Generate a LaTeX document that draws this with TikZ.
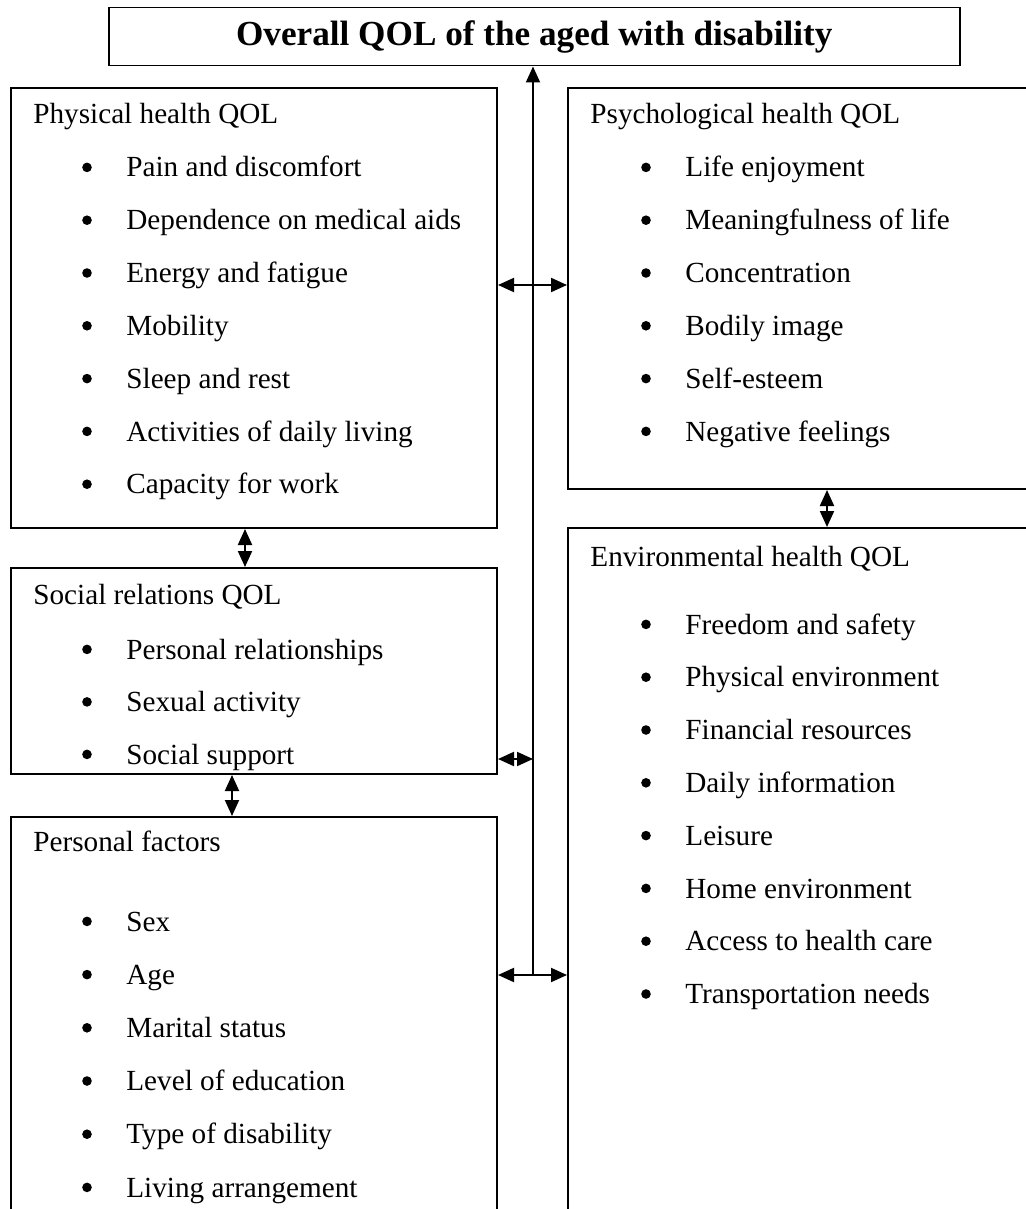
\documentclass[tikz,border=0pt]{standalone}
\usepackage{fontspec}
\setmainfont{Liberation Serif}
\usetikzlibrary{arrows.meta}
\begin{document}
\begin{tikzpicture}[x=0.5pt,y=-0.5pt,
  box/.style={draw, line width=1pt, rectangle, inner sep=0pt, anchor=north west},
  hd/.style={anchor=base west, inner sep=0pt, font=\fontsize{14.6}{17}\selectfont},
  itm/.style={hd},
  dot/.style={fill=black},
  link/.style={line width=1pt, {Triangle[length=8pt,width=7pt]}-{Triangle[length=8pt,width=7pt]}},
  uplink/.style={line width=1pt, -{Triangle[length=8pt,width=7pt]}}
  ]
\useasboundingbox (0,0) rectangle (1026,1209);
% boxes
\node[box, line width=0.75pt, minimum width=425.5pt, minimum height=29pt, anchor=north west,
      font=\fontsize{17.6}{20}\selectfont\bfseries] (title) at (108,7) {Overall QOL of the aged with disability};
\node[box, minimum width=243pt, minimum height=220pt] (phys) at (10,87) {};
\node[box, minimum width=235pt, minimum height=200.5pt] (psych) at (567,87) {};
\node[box, minimum width=243pt, minimum height=103pt] (social) at (10,567) {};
\node[box, minimum width=235pt, minimum height=350pt] (env) at (567,527) {};
\node[box, minimum width=243pt, minimum height=202pt] (pers) at (10,816) {};
% headers
\node[hd] (physhd) at (33,124) {Physical health QOL};
\node[hd] (psychhd) at (590,124) {Psychological health QOL};
\node[hd] (socialhd) at (33,604) {Social relations QOL};
\node[hd] (envhd) at (590,566) {Environmental health QOL};
\node[hd] (pershd) at (33,851) {Personal factors};
% items
\foreach \t [count=\i from 0] in {Pain and discomfort, Dependence on medical aids, Energy and fatigue, Mobility, Sleep and rest, Activities of daily living, Capacity for work}
  {\node[itm] (phys-\i) at (126,177+\i*52.8) {\t};
   \fill[dot] ([xshift=-19.5pt,yshift=4.8pt]phys-\i.base west) circle (2.4pt);}
\foreach \t [count=\i from 0] in {Life enjoyment, Meaningfulness of life, Concentration, Bodily image, Self-esteem, Negative feelings}
  {\node[itm] (psych-\i) at (685,177+\i*52.8) {\t};
   \fill[dot] ([xshift=-19.5pt,yshift=4.8pt]psych-\i.base west) circle (2.4pt);}
\foreach \t [count=\i from 0] in {Personal relationships, Sexual activity, Social support}
  {\node[itm] (social-\i) at (126,659+\i*52.5) {\t};
   \fill[dot] ([xshift=-19.5pt,yshift=4.8pt]social-\i.base west) circle (2.4pt);}
\foreach \t [count=\i from 0] in {Sex, Age, Marital status, Level of education, Type of disability, Living arrangement}
  {\node[itm] (pers-\i) at (126,931+\i*53.2) {\t};
   \fill[dot] ([xshift=-19.5pt,yshift=4.8pt]pers-\i.base west) circle (2.4pt);}
\foreach \t [count=\i from 0] in {Freedom and safety, Physical environment, Financial resources, Daily information, Leisure, Home environment, Access to health care, Transportation needs}
  {\node[itm] (env-\i) at (685,634+\i*52.8) {\t};
   \fill[dot] ([xshift=-19.5pt,yshift=4.8pt]env-\i.base west) circle (2.4pt);}
% connectors
\coordinate (hub) at (533,975);
\coordinate (hubS) at (533,759);
\draw[uplink] (hub) -- (title.south -| hub);
\draw[link] (phys.east |- 0,285) -- (psych.west |- 0,285);
\draw[link] (social.east |- hubS) -- (hubS);
\draw[link] (pers.east |- hub) -- (env.west |- hub);
\draw[link] (phys.south -| 245,0) -- (social.north -| 245,0);
\draw[link] (social.south -| 232,0) -- (pers.north -| 232,0);
\draw[link] (psych.south -| 827,0) -- (env.north -| 827,0);
\end{tikzpicture}
\end{document}
